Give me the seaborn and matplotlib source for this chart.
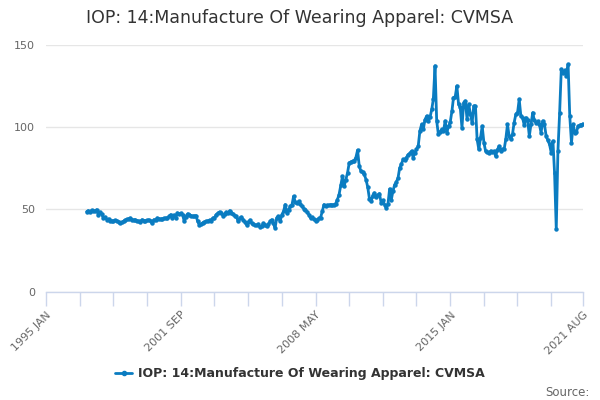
import numpy as np
import pandas as pd
import matplotlib
matplotlib.use("Agg")
import matplotlib.pyplot as plt
import matplotlib.dates as mdates
from matplotlib.lines import Line2D
import seaborn as sns

title = "IOP: 14:Manufacture Of Wearing Apparel: CVMSA"
series_name = "IOP: 14:Manufacture Of Wearing Apparel: CVMSA"
source_text = "Source:"

start_month = "1997-01"
axis_start = "1995-01"
axis_end = "2021-08"
tick_step_months = 20
label_months = ["1995-01", "2001-09", "2008-05", "2015-01", "2021-08"]
label_texts = ["1995 JAN", "2001 SEP", "2008 MAY", "2015 JAN", "2021 AUG"]
y_ticks = [0, 50, 100, 150]

v1997 = [48.6, 49.2, 48.5, 49.4, 48.7, 49.0, 49.8, 46.5, 48.2, 47.0, 44.7, 45.3]
v1998 = [43.7, 44.2, 43.1, 43.0, 42.8, 43.3, 43.0, 42.5, 41.7, 42.2, 42.7, 43.5]
v1999 = [43.9, 44.2, 44.7, 43.8, 43.5, 43.6, 43.1, 42.8, 42.5, 43.7, 43.2, 43.0]
v2000 = [43.3, 43.6, 42.9, 41.5, 43.7, 43.5, 44.7, 44.3, 44.0, 44.2, 44.5, 44.7]
v2001 = [44.5, 45.7, 46.8, 45.0, 46.5, 44.8, 47.8, 47.2, 47.6, 46.8, 42.7, 45.5]
v2002 = [47.3, 46.8, 46.2, 45.8, 45.7, 46.2, 42.7, 40.6, 41.1, 41.8, 42.3, 42.7]
v2003 = [43.0, 43.5, 43.2, 44.7, 44.5, 46.8, 47.6, 48.4, 47.6, 46.2, 47.3, 48.3]
v2004 = [47.5, 49.2, 48.0, 47.2, 46.0, 45.7, 42.7, 44.5, 45.3, 43.7, 42.5, 40.6]
v2005 = [42.0, 43.5, 41.7, 41.0, 40.5, 40.2, 41.0, 39.2, 39.6, 41.5, 40.7, 39.6]
v2006 = [40.8, 42.7, 43.7, 41.5, 38.6, 45.0, 45.7, 42.7, 46.8, 48.8, 52.9, 48.0]
v2007 = [49.8, 51.8, 52.5, 57.9, 54.5, 53.8, 54.9, 53.0, 51.8, 50.5, 49.8, 48.5]
v2008 = [46.8, 44.7, 45.2, 44.0, 43.1, 43.8, 44.5, 45.0, 48.8, 52.9, 51.8, 52.5]
v2009 = [52.4, 52.9, 52.4, 52.9, 53.5, 55.9, 59.0, 64.5, 70.1, 64.0, 68.1, 72.2]
v2010 = [78.3, 78.8, 79.3, 79.5, 81.5, 86.0, 76.2, 73.2, 72.5, 71.2, 68.0, 63.5]
v2011 = [56.5, 54.9, 58.4, 60.0, 57.5, 58.5, 59.6, 53.9, 55.5, 52.9, 50.8, 53.0]
v2012 = [62.4, 55.9, 61.0, 65.0, 66.5, 69.1, 75.2, 77.5, 80.3, 80.0, 81.5, 83.3]
v2013 = [84.0, 85.4, 81.5, 84.5, 86.4, 88.4, 97.6, 101.6, 98.6, 104.5, 106.7, 103.7]
v2014 = [106.0, 110.8, 116.9, 137.2, 103.7, 95.5, 97.0, 98.6, 97.6, 103.7, 96.6, 100.6]
v2015 = [103.0, 109.8, 117.9, 118.5, 125.0, 113.8, 112.0, 99.6, 114.9, 115.9, 104.7, 113.9]
v2016 = [108.0, 102.6, 112.8, 112.6, 92.5, 86.4, 93.5, 100.6, 90.5, 85.4, 84.8, 84.4]
v2017 = [85.5, 84.8, 85.2, 82.3, 86.0, 88.4, 85.5, 86.4, 86.4, 92.5, 101.6, 94.5]
v2018 = [92.5, 96.0, 102.7, 107.7, 108.5, 116.9, 106.7, 105.5, 101.0, 105.7, 104.0, 94.5]
v2019 = [102.0, 108.8, 104.0, 102.7, 103.5, 101.6, 96.6, 103.7, 101.6, 94.5, 92.0, 89.5]
v2020 = [84.4, 91.5, 72.2, 38.0, 85.4, 108.8, 135.2, 133.0, 134.5, 131.0, 138.2, 106.7]
v2021 = [90.5, 101.6, 96.6, 97.0, 100.6, 101.0, 101.5, 102.0]

values = (v1997 + v1998 + v1999 + v2000 + v2001 + v2002 + v2003 + v2004 + v2005
          + v2006 + v2007 + v2008 + v2009 + v2010 + v2011 + v2012 + v2013 + v2014
          + v2015 + v2016 + v2017 + v2018 + v2019 + v2020 + v2021)
dates = pd.date_range(start=start_month, periods=len(values), freq="MS")
df = pd.DataFrame({"date": dates, "value": values})

sns.set_theme(style="white")
plt.rcParams["font.family"] = ["DejaVu Sans"]

line_color = "#0a7cc1"
axis_color = "#ccd6eb"
grid_color = "#e6e6e6"
label_color = "#666666"

fig = plt.figure(figsize=(6, 4), dpi=100)
ax = fig.add_axes([0.077, 0.271, 0.895, 0.617])

sns.lineplot(data=df, x="date", y="value", ax=ax, color=line_color, linewidth=2,
             marker="o", markersize=3.2, markeredgewidth=0, legend=False)

ax.set_ylim(0, 150)
ax.set_xlim(pd.Timestamp(axis_start), pd.Timestamp(axis_end))
ax.set_yticks(y_ticks)
ax.set_yticklabels([str(t) for t in y_ticks], color=label_color, fontsize=8)
ax.yaxis.grid(True, color=grid_color, linewidth=1)
ax.xaxis.grid(False)
ax.tick_params(axis="y", left=False, length=0, pad=8)

all_ticks = list(pd.date_range(start=axis_start, end=axis_end, freq=f"{tick_step_months}MS"))
all_ticks.append(pd.Timestamp(axis_end))
ax.set_xticks(all_ticks)
label_map = {pd.Timestamp(m): t for m, t in zip(label_months, label_texts)}
ax.set_xticklabels([label_map.get(t, "") for t in all_ticks], rotation=45,
                   ha="right", rotation_mode="anchor", color=label_color, fontsize=8)
ax.tick_params(axis="x", bottom=True, direction="out", length=10, width=1,
               color=axis_color, pad=3)

for s in ["top", "right", "left"]:
    ax.spines[s].set_visible(False)
ax.spines["bottom"].set_color(axis_color)
ax.spines["bottom"].set_linewidth(1)
ax.set_xlabel("")
ax.set_ylabel("")

fig.text(0.5, 0.955, title, ha="center", va="center", fontsize=12.5, color="#333333")

handle = Line2D([0], [0], color=line_color, linewidth=2, marker="o", markersize=3)
fig.legend([handle], [series_name], loc="center", bbox_to_anchor=(0.5, 0.066),
           frameon=False, handlelength=1.4, handletextpad=0.5,
           prop={"weight": "bold", "size": 9})
leg_text = fig.legends[0].get_texts()[0]
leg_text.set_color("#333333")

fig.text(0.983, 0.02, source_text, ha="right", va="center", fontsize=8.5, color=label_color)

fig.savefig("out.png", dpi=100)
